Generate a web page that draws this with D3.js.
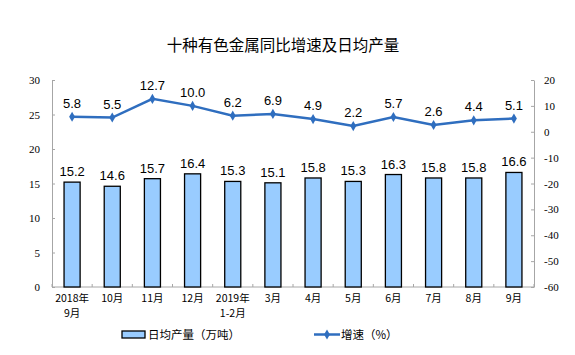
<!DOCTYPE html>
<html><head><meta charset="utf-8">
<script src="https://cdn.jsdelivr.net/npm/d3@7/dist/d3.min.js"></script>
<style>body{margin:0;background:#fff}svg{display:block}</style>
</head><body><svg id="c" width="575" height="355"></svg>
<script>
const categories = [["2018年","9月"],["10月"],["11月"],["12月"],["2019年","1-2月"],["3月"],["4月"],["5月"],["6月"],["7月"],["8月"],["9月"]];
const output = [15.2,14.6,15.7,16.4,15.3,15.1,15.8,15.3,16.3,15.8,15.8,16.6];
const growth = [5.8,5.5,12.7,10.0,6.2,6.9,4.9,2.2,5.7,2.6,4.4,5.1];
const leftTicks = [0,5,10,15,20,25,30];
const rightTicks = [-60,-50,-40,-30,-20,-10,0,10,20];
const title = "十种有色金属同比增速及日均产量";
const legendBar = "日均产量（万吨）";
const legendLine = "增速（%）";

const svg = d3.select("#c");
const L = 52, R = 534, T = 80, B = 287;
const cjk = "'Noto Sans CJK SC', sans-serif";
const serif = "'Liberation Serif', 'DejaVu Serif', serif";
const arial = "'Liberation Sans', Arial, sans-serif";
const lineColor = "#2F6EBF";
const axisColor = "#A6A6A6";

const x = d3.scaleBand().domain(d3.range(categories.length)).range([L, R]).paddingInner(0.6).paddingOuter(0.3);
const yL = d3.scaleLinear().domain([0,30]).range([B, T]);
const yR = d3.scaleLinear().domain([-60,20]).range([B, T]);

svg.append("text").attr("x", 283).attr("y", 51).attr("text-anchor","middle")
  .attr("font-family", cjk).attr("font-size", 15.5).attr("fill","#000").text(title);

// left axis
const gl = svg.append("g").attr("transform", `translate(${L},0)`)
  .call(d3.axisLeft(yL).tickValues(leftTicks).tickFormat(d => String(d)).tickSizeInner(-3).tickSizeOuter(0).tickPadding(12));
gl.selectAll("path, line").attr("stroke", axisColor);
gl.selectAll("text").attr("font-family", serif).attr("font-size", 11).attr("fill","#000");

// right axis
const gr = svg.append("g").attr("transform", `translate(${R},0)`)
  .call(d3.axisRight(yR).tickValues(rightTicks).tickFormat(d => String(d)).tickSizeInner(-3).tickSizeOuter(0).tickPadding(10));
gr.selectAll("path, line").attr("stroke", axisColor);
gr.selectAll("text").attr("font-family", serif).attr("font-size", 11).attr("fill","#000");

// x axis baseline with boundary ticks
const gx = svg.append("g");
gx.append("line").attr("x1", L).attr("x2", R).attr("y1", B).attr("y2", B).attr("stroke", axisColor);
gx.selectAll("line.t").data(d3.range(categories.length + 1)).join("line")
  .attr("x1", i => L + i * (R - L) / categories.length).attr("x2", i => L + i * (R - L) / categories.length)
  .attr("y1", B).attr("y2", B - 3).attr("stroke", axisColor);

// x labels
const xl = svg.append("g");
categories.forEach((c, i) => {
  const cx = x(i) + x.bandwidth() / 2;
  c.forEach((s, j) => {
    xl.append("text").attr("x", cx).attr("y", 302 + j * 15).attr("text-anchor","middle")
      .attr("font-family", cjk).attr("font-size", 10.5).attr("fill","#000").text(s);
  });
});

// bars
svg.append("g").selectAll("rect").data(output).join("rect")
  .attr("x", (d, i) => x(i)).attr("width", x.bandwidth())
  .attr("y", d => yL(d)).attr("height", d => B - yL(d))
  .attr("fill", "#99CCFF").attr("stroke", "#000").attr("stroke-width", 1.3);

svg.append("g").selectAll("text").data(output).join("text")
  .attr("x", (d, i) => x(i) + x.bandwidth() / 2).attr("y", d => yL(d) - 6)
  .attr("text-anchor","middle").attr("font-family", arial).attr("font-size", 13).attr("fill","#000")
  .text(d => d.toFixed(1));

// line
const line = d3.line().x((d, i) => x(i) + x.bandwidth() / 2).y(d => yR(d));
svg.append("path").datum(growth).attr("d", line).attr("fill","none")
  .attr("stroke", lineColor).attr("stroke-width", 2.5);
const diamond = d3.symbol().type(d3.symbolDiamond).size(30);
svg.append("g").selectAll("path").data(growth).join("path")
  .attr("transform", (d, i) => `translate(${x(i) + x.bandwidth() / 2},${yR(d)})`)
  .attr("d", diamond).attr("fill", lineColor);
svg.append("g").selectAll("text").data(growth).join("text")
  .attr("x", (d, i) => x(i) + x.bandwidth() / 2).attr("y", d => yR(d) - 9)
  .attr("text-anchor","middle").attr("font-family", arial).attr("font-size", 13).attr("fill","#000")
  .text(d => d.toFixed(1));

// legend
const lg = svg.append("g");
lg.append("rect").attr("x", 122).attr("y", 331).attr("width", 23).attr("height", 7)
  .attr("fill", "#99CCFF").attr("stroke", "#000").attr("stroke-width", 1.3);
lg.append("text").attr("x", 148).attr("y", 339).attr("font-family", cjk).attr("font-size", 11.5)
  .attr("fill","#000").text(legendBar);
lg.append("line").attr("x1", 314).attr("x2", 340).attr("y1", 334.5).attr("y2", 334.5)
  .attr("stroke", lineColor).attr("stroke-width", 2.5);
lg.append("path").attr("transform", "translate(327,334.5)").attr("d", diamond).attr("fill", lineColor);
lg.append("text").attr("x", 341).attr("y", 339).attr("font-family", cjk).attr("font-size", 11.5)
  .attr("fill","#000").text(legendLine);
</script></body></html>
